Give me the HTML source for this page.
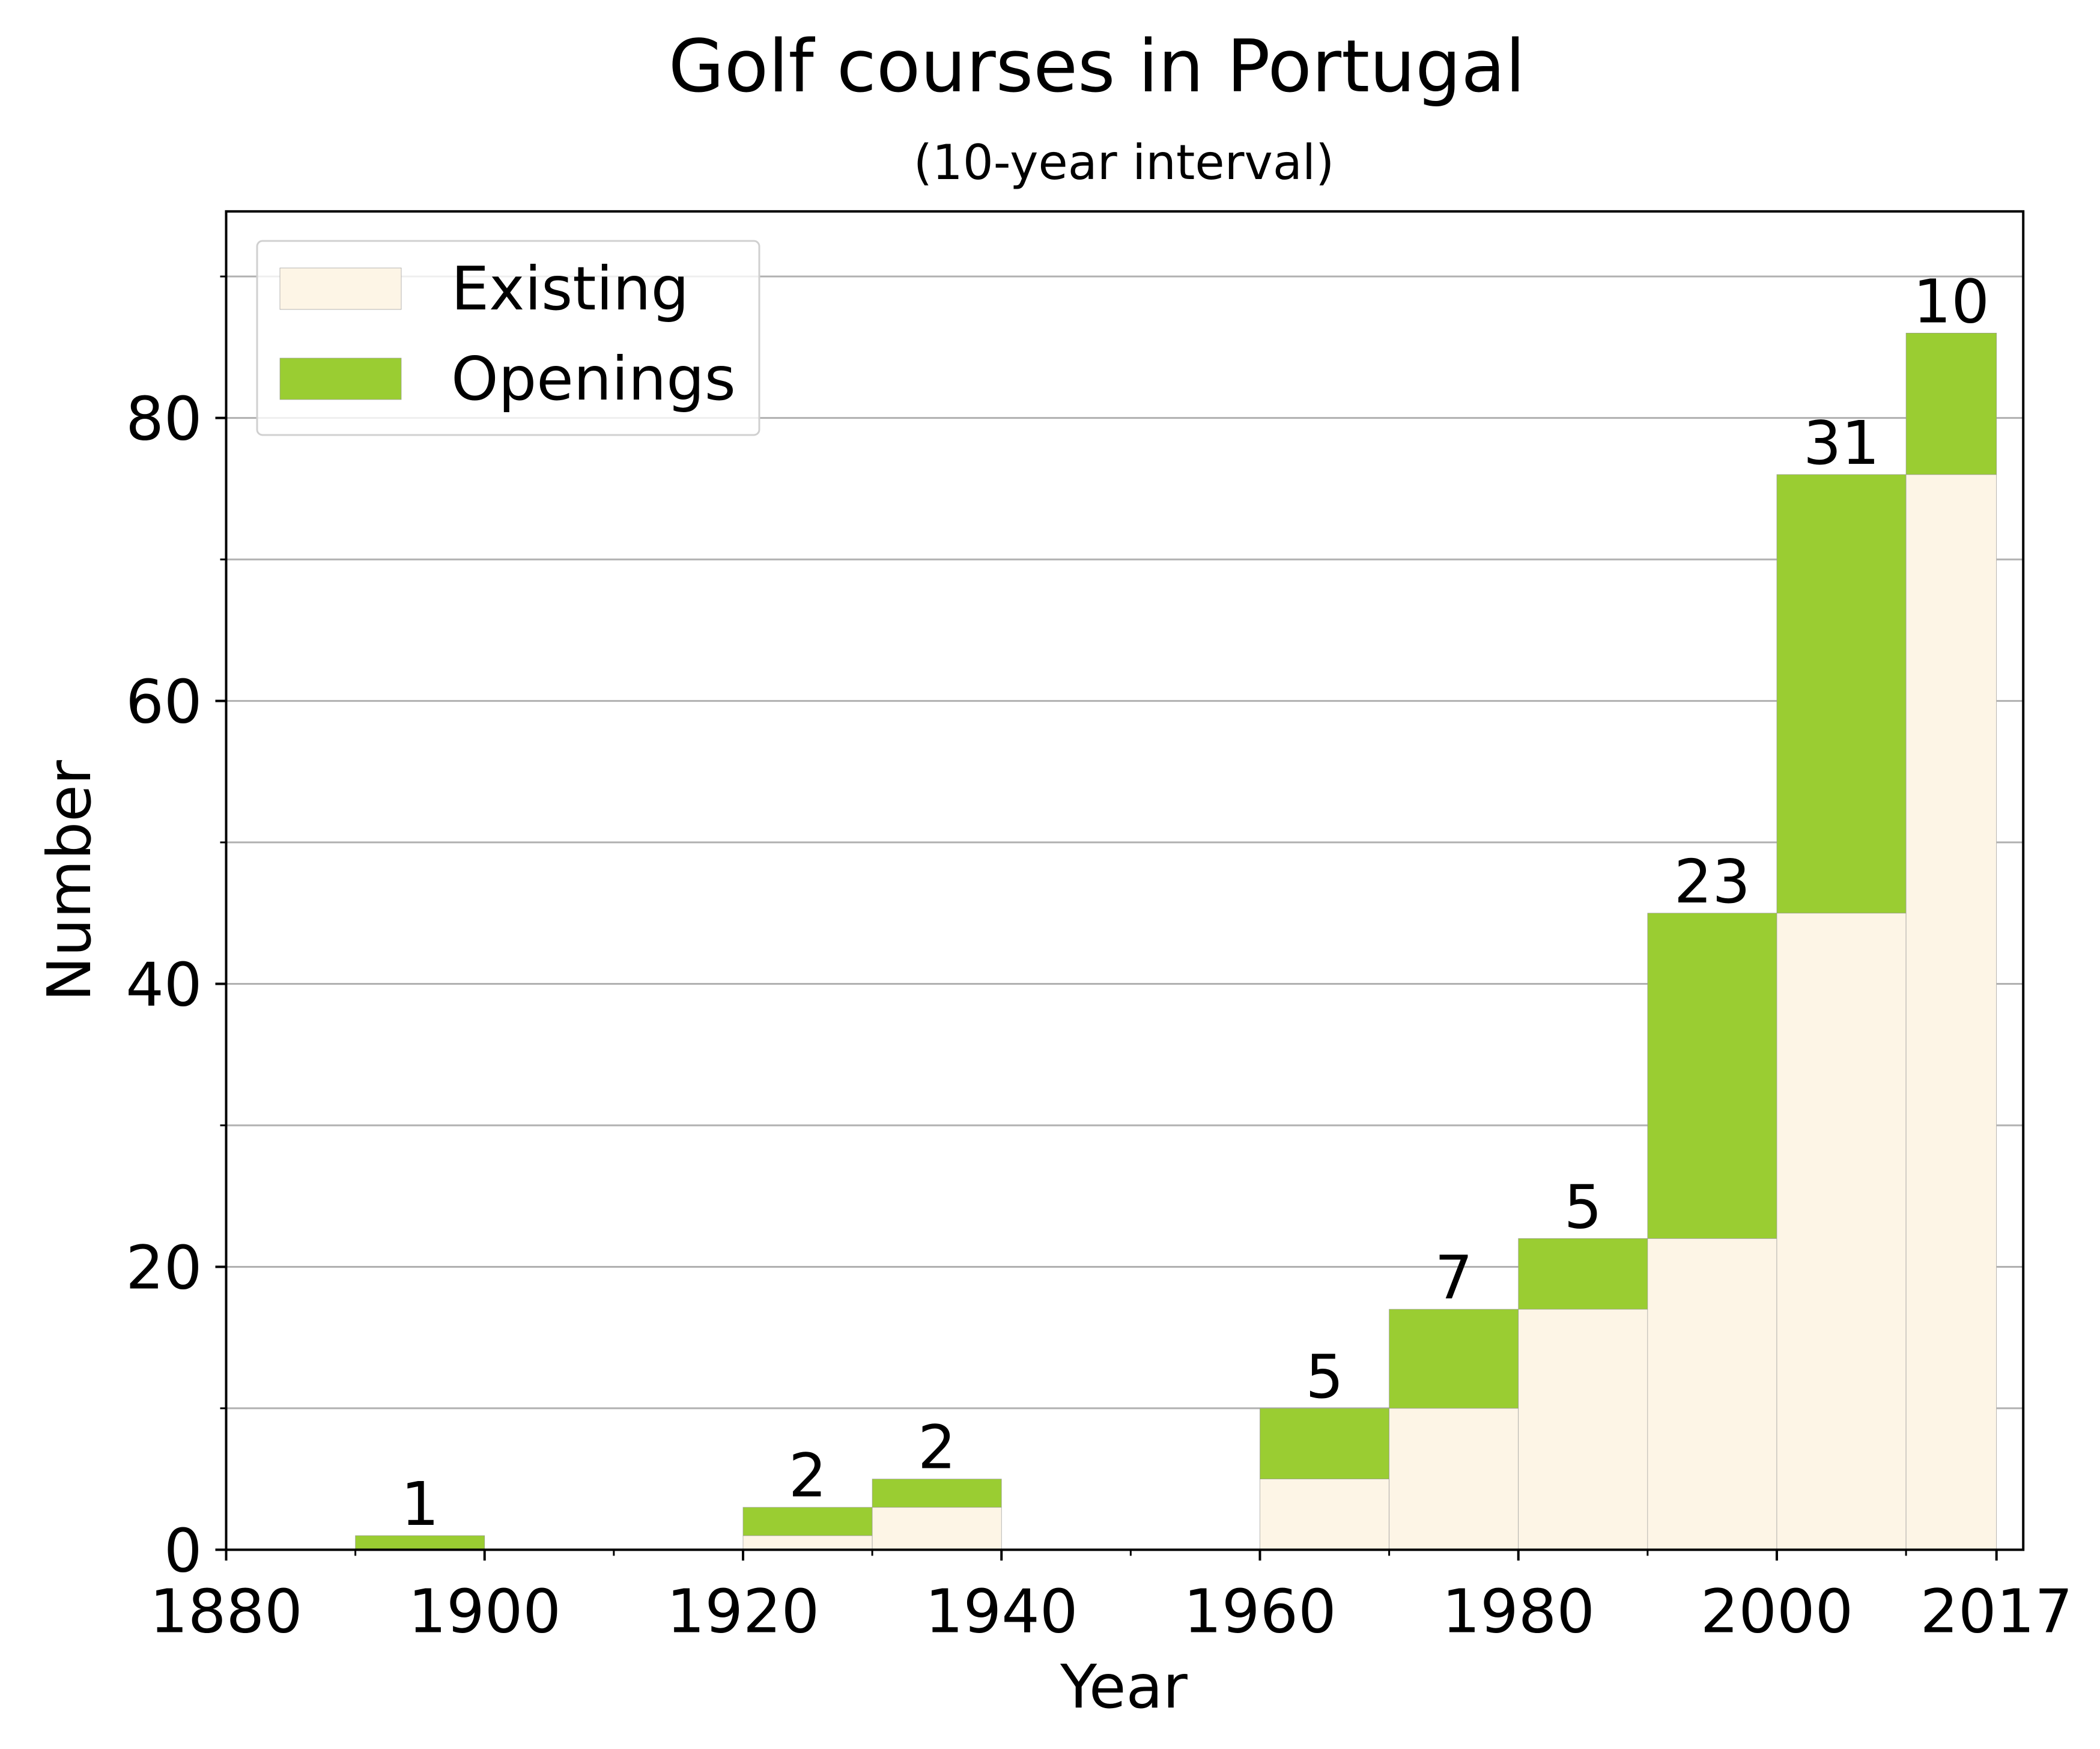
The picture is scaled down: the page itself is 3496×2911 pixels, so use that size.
<!DOCTYPE html>
<html><head><meta charset="utf-8"><style>html,body{margin:0;padding:0;background:#fff}svg{display:block}</style></head>
<body>
<svg id="chart" width="3496" height="2911" xmlns="http://www.w3.org/2000/svg">
<rect width="3496" height="2911" fill="#fff"/>
<g id="grid"></g>
<g id="bars"></g>
<g id="axes"></g>
<text x="1826" y="152" text-anchor="middle" style="font-size:120px;font-family:'DejaVu Sans','Liberation Sans',sans-serif;fill:#000">Golf courses in Portugal</text>
<text x="1871" y="298" text-anchor="middle" style="font-size:80px;font-family:'DejaVu Sans','Liberation Sans',sans-serif;fill:#000">(10-year interval)</text>
<text x="1871" y="2842" text-anchor="middle" style="font-size:100px;font-family:'DejaVu Sans','Liberation Sans',sans-serif;fill:#000">Year</text>
<text x="0" y="0" text-anchor="middle" transform="translate(150,1466) rotate(-90)" style="font-size:100px;font-family:'DejaVu Sans','Liberation Sans',sans-serif;fill:#000">Number</text>
<g>
<rect x="428" y="401" width="836" height="323" rx="9" fill="#fff" fill-opacity="0.8" stroke="#d0d0d0" stroke-width="3"/>
<rect x="466" y="446" width="202" height="69" fill="#fdf5e6" stroke="#999" stroke-width="0.7"/>
<text x="751" y="515" style="font-size:100px;font-family:'DejaVu Sans','Liberation Sans',sans-serif;fill:#000">Existing</text>
<rect x="466" y="596" width="202" height="69" fill="#9acd32" stroke="#999" stroke-width="0.7"/>
<text x="751" y="665" style="font-size:100px;font-family:'DejaVu Sans','Liberation Sans',sans-serif;fill:#000">Openings</text>
</g>
</svg>
<script>
const binStarts=[1890,1920,1930,1960,1970,1980,1990,2000,2010];
const binEnds=[1900,1930,1940,1970,1980,1990,2000,2010,2017];
const existing=[0,1,3,5,10,17,22,45,76];
const openings=[1,2,2,5,7,5,23,31,10];
const xMajorTicks=[1880,1900,1920,1940,1960,1980,2000,2017];
const xMinorTicks=[1890,1910,1930,1950,1970,1990,2010];
const yMajorTicks=[0,20,40,60,80];
const yMinorTicks=[10,30,50,70,90];
const S=2.241;
const X0=168*S,X1=1503*S,Y0=1151*S,Y1=157*S;
const xMin=1880,xMax=2019.07,yMin=0,yMax=94.6;
const FONT="font-size:100px;font-family:'DejaVu Sans','Liberation Sans',sans-serif;fill:#000";
function sx(v){return X0+(v-xMin)/(xMax-xMin)*(X1-X0);}
function sy(v){return Y0-(v-yMin)/(yMax-yMin)*(Y0-Y1);}
const NS="http://www.w3.org/2000/svg";
function mk(tag,attrs,parent){const e=document.createElementNS(NS,tag);for(const k in attrs)e.setAttribute(k,attrs[k]);parent.appendChild(e);return e;}
const grid=document.getElementById('grid'),bars=document.getElementById('bars'),axes=document.getElementById('axes');
[...yMajorTicks,...yMinorTicks].forEach(v=>{if(v===0)return;
 const l=mk('line',{x1:X0,x2:X1,y1:sy(v),y2:sy(v),stroke:'#b0b0b0','stroke-width':3},grid);
 
 });
binStarts.forEach((s,i)=>{
 const x=sx(s),w=sx(binEnds[i])-sx(s);
 if(existing[i]>0){const r=mk('rect',{x:x,y:sy(existing[i]),width:w,height:sy(0)-sy(existing[i]),fill:'#fdf5e6',stroke:'#999','stroke-width':0.7},bars);
 
 }
 const top=existing[i]+openings[i];
 const g=mk('rect',{x:x,y:sy(top),width:w,height:sy(existing[i])-sy(top),fill:'#9acd32',stroke:'#999','stroke-width':0.7},bars);
 
 
 const t=mk('text',{x:x+w/2,y:sy(top)-18,'text-anchor':'middle',style:FONT},bars);
 t.textContent=openings[i];
 
 
});
const fr=mk('rect',{x:X0,y:Y1,width:X1-X0,height:Y0-Y1,fill:'none',stroke:'#000','stroke-width':4},axes);


xMajorTicks.forEach(v=>{const x=sx(v);
 const l=mk('line',{x1:x,x2:x,y1:Y0,y2:Y0+18,stroke:'#000','stroke-width':4},axes);
 
 
 const t=mk('text',{x:x,y:Y0+137,'text-anchor':'middle',style:FONT},axes);t.textContent=v;
 
 });
xMinorTicks.forEach(v=>{const x=sx(v);
 const l=mk('line',{x1:x,x2:x,y1:Y0,y2:Y0+10,stroke:'#000','stroke-width':3},axes);
 
 });
yMajorTicks.forEach(v=>{const y=sy(v);
 const l=mk('line',{x1:X0-18,x2:X0,y1:y,y2:y,stroke:'#000','stroke-width':4},axes);
 
 
 const t=mk('text',{x:X0-40,y:y+36,'text-anchor':'end',style:FONT},axes);t.textContent=v;
 
 });
yMinorTicks.forEach(v=>{const y=sy(v);
 const l=mk('line',{x1:X0-10,x2:X0,y1:y,y2:y,stroke:'#000','stroke-width':3},axes);
 
 });
</script>
</body></html>
